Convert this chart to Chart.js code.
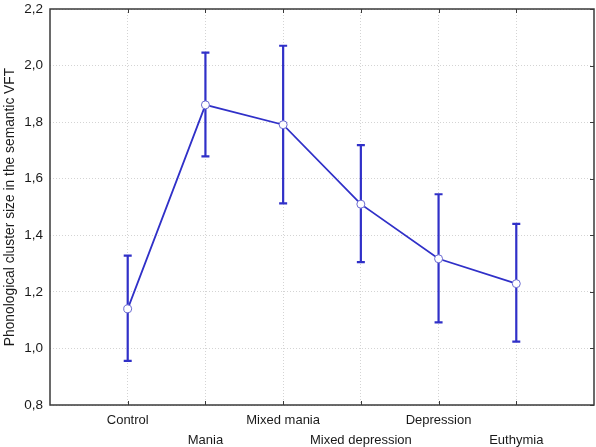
<!DOCTYPE html>
<html>
<head>
<meta charset="utf-8">
<script src="https://cdn.jsdelivr.net/npm/chart.js@4"></script>
<style>
  html, body { margin: 0; padding: 0; background: #fff; }
  #wrap { width: 596px; height: 447px; position: relative; }
</style>
</head>
<body>
<div id="wrap"><canvas id="chart"></canvas></div>
<script>
"use strict";

// ── Data ────────────────────────────────────────────────────────────────
const categories = ["Control", "Mania", "Mixed mania", "Mixed depression", "Depression", "Euthymia"];
const means      = [1.140, 1.861, 1.791, 1.510, 1.317, 1.229];
const upper      = [1.328, 2.046, 2.070, 1.719, 1.545, 1.440];
const lower      = [0.956, 1.679, 1.513, 1.305, 1.092, 1.024];
const yTicks     = [0.8, 1.0, 1.2, 1.4, 1.6, 1.8, 2.0, 2.2];
const yTitle     = "Phonological cluster size in the semantic VFT";

const BLUE = "#3030c8";
const FRAME = "#3a3a3a";

Chart.defaults.font.family = "'Liberation Sans', Arial, sans-serif";
Chart.defaults.font.size = 13;
Chart.defaults.color = "#1a1a1a";

// ── Error bars, frame and title (drawn with the chart's scales) ───────────
const extras = {
  id: "extras",
  beforeDatasetsDraw(chart) {
    const { ctx, scales: { x, y } } = chart;
    ctx.save();
    ctx.strokeStyle = BLUE;
    ctx.lineWidth = 2.2;
    means.forEach((_, i) => {
      const px = x.getPixelForValue(i + 1);
      const top = y.getPixelForValue(upper[i]);
      const bot = y.getPixelForValue(lower[i]);
      ctx.beginPath();
      ctx.moveTo(px, top); ctx.lineTo(px, bot);
      ctx.moveTo(px - 4, top); ctx.lineTo(px + 4, top);
      ctx.moveTo(px - 4, bot); ctx.lineTo(px + 4, bot);
      ctx.stroke();
    });
    ctx.restore();
  },
  afterDraw(chart) {
    const { ctx, chartArea: a, scales: { x, y } } = chart;
    ctx.save();
    ctx.strokeStyle = FRAME;
    ctx.lineWidth = 1.5;
    ctx.strokeRect(a.left, a.top, a.right - a.left, a.bottom - a.top);
    ctx.lineWidth = 1;
    ctx.beginPath();
    categories.forEach((_, i) => {
      const px = Math.round(x.getPixelForValue(i + 1)) + 0.5;
      ctx.moveTo(px, a.bottom); ctx.lineTo(px, a.bottom - 4);
      ctx.moveTo(px, a.top); ctx.lineTo(px, a.top + 4);
    });
    yTicks.forEach(v => {
      const py = Math.round(y.getPixelForValue(v)) + 0.5;
      ctx.moveTo(a.right, py); ctx.lineTo(a.right - 4, py);
    });
    ctx.stroke();

    // rotated y title, centred on the plot
    ctx.translate(10, (a.top + a.bottom) / 2);
    ctx.rotate(-Math.PI / 2);
    ctx.fillStyle = "#1a1a1a";
    ctx.font = "13.8px 'Liberation Sans', Arial, sans-serif";
    ctx.textAlign = "center";
    ctx.textBaseline = "middle";
    ctx.fillText(yTitle, 0, 0);
    ctx.restore();
  },
};

new Chart(document.getElementById("chart"), {
  type: "line",
  data: {
    datasets: [{
      data: means.map((v, i) => ({ x: i + 1, y: v })),
      borderColor: BLUE,
      borderWidth: 1.8,
      pointRadius: 4,
      pointBackgroundColor: "#fff",
      pointBorderColor: "#6a6ad0",
      pointBorderWidth: 1,
      tension: 0,
    }],
  },
  options: {
    responsive: true,
    maintainAspectRatio: false,
    animation: false,
    events: [],
    layout: { autoPadding: false, padding: { top: 9, right: 2, left: 0, bottom: 0 } },
    plugins: { legend: { display: false }, tooltip: { enabled: false } },
    scales: {
      x: {
        type: "linear",
        min: 0,
        max: 7,
        afterBuildTicks: s => { s.ticks = categories.map((_, i) => ({ value: i + 1 })); },
        afterFit: s => { s.height = 42; s.paddingLeft = 0; s.paddingRight = 0; },
        grid: { color: "#d4d4d4", drawTicks: false },
        border: { display: false, dash: [1, 2] },
        ticks: {
          padding: 6,
          maxRotation: 0,
          autoSkip: false,
          font: { size: 13, lineHeight: 1.5 },
          callback: v => {
            const lbl = categories[Math.round(v) - 1];
            return (Math.round(v) % 2 === 1) ? [lbl, ""] : ["", lbl];
          },
        },
      },
      y: {
        min: 0.8,
        max: 2.2,
        afterBuildTicks: s => { s.ticks = yTicks.map(v => ({ value: v })); },
        afterFit: s => { s.width = 50; s.paddingTop = 0; s.paddingBottom = 0; },
        grid: { color: "#d4d4d4", drawTicks: false },
        border: { display: false, dash: [1, 2] },
        ticks: {
          padding: 7,
          font: { size: 13.5 },
          callback: v => v.toFixed(1).replace(".", ","),
        },
      },
    },
  },
  plugins: [extras],
});
</script>
</body>
</html>
